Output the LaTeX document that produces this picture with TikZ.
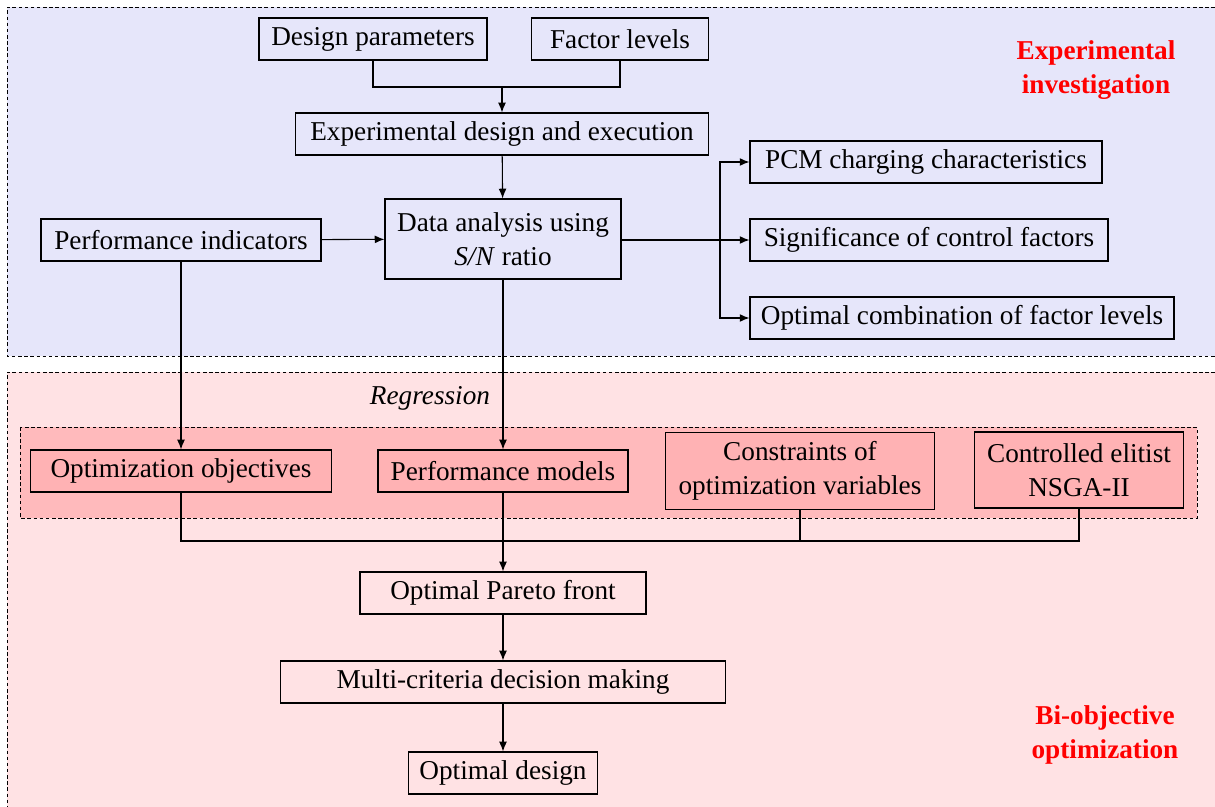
\documentclass[tikz,border=0pt]{standalone}
\usepackage{fontspec}
\setmainfont{Liberation Serif}
\usetikzlibrary{arrows.meta}
\definecolor{bluebg}{RGB}{230,230,250}
\definecolor{pinkbg}{RGB}{255,226,228}
\definecolor{pinkin}{RGB}{255,186,188}
\definecolor{pinkbox}{RGB}{255,178,180}

\begin{document}
\begin{tikzpicture}[x=0.02cm, y=-0.02cm,
    font=\fontsize{15.5}{19}\selectfont,
    box/.style={draw, line width=0.7pt, minimum height=0.84cm, inner sep=2pt, align=center},
    pbox/.style={box, fill=pinkbox},
    arr/.style={-{Latex[length=5.5pt,width=4.5pt]}},
    line/.style={line width=0.6pt},
    zone/.style={dash pattern=on 2pt off 1.5pt, line width=0.5pt},
    tag/.style={text=red, font=\fontsize{15.5}{19}\selectfont\bfseries, align=center}]
    \useasboundingbox (0,0) rectangle (1215,807);
    \fill[bluebg] (7,7) rectangle (1215,356);
    \draw[zone] (1215,7) -- (7,7) -- (7,356) -- (1215,356);
    \fill[pinkbg] (7,372) rectangle (1215,807);
    \draw[zone] (1215,372) -- (7,372) -- (7,807);
    \draw[zone, fill=pinkin] (20,427) rectangle (1197,518);

    \node[box, minimum width=4.56cm] (dp) at (373,39) {Design parameters};
    \node[box, minimum width=3.54cm] (fl) at (620,39) {Factor levels};
    \node[box, minimum width=8.26cm] (ede) at (502,134) {Experimental design and execution};
    \node[box, minimum width=4.72cm, minimum height=1.6cm] (da) at (503,239) {Data analysis using\\\textit{S/N} ratio};
    \node[box, minimum width=5.6cm] (pi) at (181,240) {Performance indicators};
    \node[box, minimum width=7.04cm] (pcm) at (926,162) {PCM charging characteristics};
    \node[box, minimum width=7.16cm] (sig) at (929,240) {Significance of control factors};
    \node[box, minimum width=8.48cm] (ocf) at (962,318) {Optimal combination of factor levels};
    \node[tag] (ei) at (1096,70) {Experimental\\investigation};

    \node[font=\fontsize{15.5}{19}\selectfont\itshape] (reg) at (430,398) {Regression};
    \node[pbox, minimum width=6.02cm] (oo) at (181,471) {Optimization objectives};
    \node[pbox, minimum width=5.0cm] (pm) at (503,471) {Performance models};
    \node[pbox, minimum width=5.38cm, minimum height=1.54cm] (cov) at (800,471) {Constraints of\\optimization variables};
    \node[pbox, minimum width=4.18cm, minimum height=1.52cm] (ns) at (1079,470) {Controlled elitist\\NSGA-II};
    \node[box, minimum width=5.72cm] (pf) at (503,593) {Optimal Pareto front};
    \node[box, minimum width=8.9cm] (mc) at (503,682) {Multi-criteria decision making};
    \node[box, minimum width=3.78cm] (od) at (503,773) {Optimal design};
    \node[tag] (bo) at (1105,735) {Bi-objective\\optimization};

    \coordinate (j1) at (502,87);
    \coordinate (j2) at (720,240);
    \coordinate (j3) at (503,541);
    \draw[line] (dp.south) |- (j1) -| (fl.south);
    \draw[line, arr] (j1) -- (ede.north);
    \draw[line, arr] (ede) -- (da);
    \draw[line, arr] (pi) -- (da);
    \draw[line] (da.east |- j2) -- (j2);
    \draw[line, arr] (j2) |- (pcm);
    \draw[line, arr] (j2) -- (sig);
    \draw[line, arr] (j2) |- (ocf);
    \draw[line, arr] (pi) -- (oo);
    \draw[line, arr] (da) -- (pm);
    \draw[line] (oo.south) |- (j3);
    \draw[line] (cov.south) |- (j3);
    \draw[line] (ns.south) |- (j3);
    \draw[line, arr] (pm) -- (pf);
    \draw[line, arr] (pf) -- (mc);
    \draw[line, arr] (mc) -- (od);
\end{tikzpicture}
\end{document}
